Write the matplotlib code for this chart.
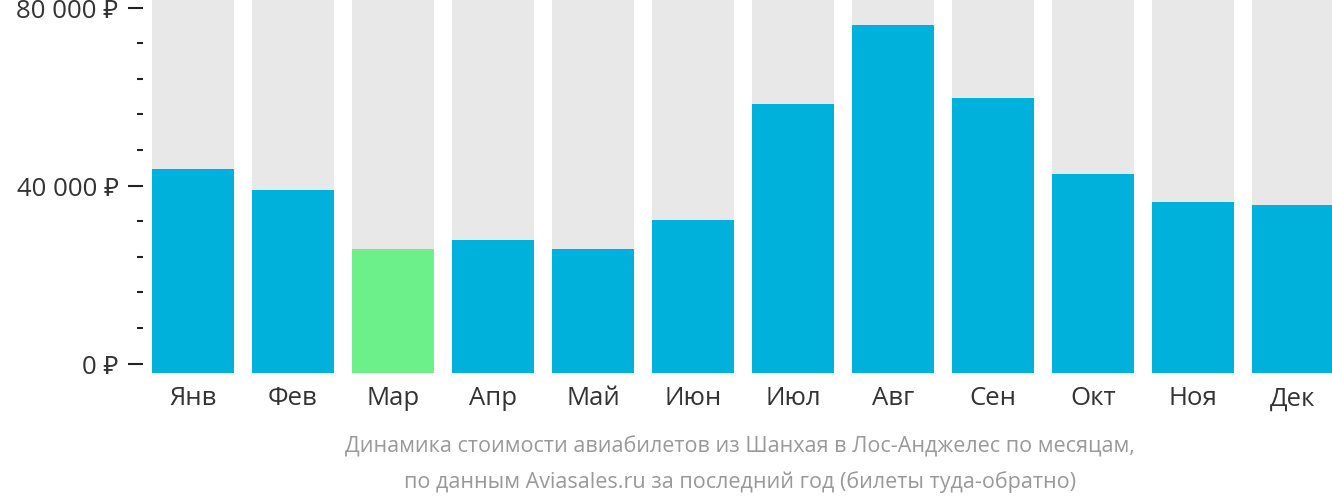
import matplotlib
matplotlib.use("Agg")
import matplotlib.pyplot as plt
from matplotlib.ticker import FixedLocator, FuncFormatter

months = ["Янв", "Фев", "Мар", "Апр", "Май", "Июн", "Июл", "Авг", "Сен", "Окт", "Ноя", "Дек"]
prices = [43700, 39000, 25800, 27800, 25800, 32300, 58300, 76000, 59600, 42600, 36300, 35600]
cheapest_month = "Мар"
major_ticks = [0, 40000, 80000]
minor_ticks = [8000, 16000, 24000, 32000, 48000, 56000, 64000, 72000]
caption = ["Динамика стоимости авиабилетов из Шанхая в Лос-Анджелес по месяцам,",
           "по данным Aviasales.ru за последний год (билеты туда-обратно)"]

FONT = ["Open Sans", "Noto Sans", "DejaVu Sans"]
plt.rcParams["font.family"] = FONT

W, H = 1332, 502
fig = plt.figure(figsize=(W / 100, H / 100), dpi=100)
ax = fig.add_axes([143 / W, 1 - 374 / H, (W - 143) / W, 374 / H])

ymin, ymax = -2130, 81910
ax.set_ylim(ymin, ymax)
ax.set_xlim(-0.5, 11.39)

x = list(range(len(months)))
colors = ["#6cf089" if m == cheapest_month else "#00b1dc" for m in months]
ax.bar(x, [ymax - ymin] * len(x), bottom=ymin, width=0.82, color="#e8e8e8", zorder=1)
ax.bar(x, [p - ymin for p in prices], bottom=ymin, width=0.82, color=colors, zorder=2)

for s in ax.spines.values():
    s.set_visible(False)

ax.yaxis.set_major_locator(FixedLocator(major_ticks))
ax.yaxis.set_minor_locator(FixedLocator(minor_ticks))
ax.yaxis.set_major_formatter(FuncFormatter(lambda v, p: f"{int(v):,}".replace(",", " ") + " ₽"))
ax.tick_params(axis="y", which="major", length=10.5, width=1.5, color="#222222",
               labelsize=18.5, labelcolor="#333333", pad=7)
ax.tick_params(axis="y", which="minor", length=4.3, width=1.5, color="#222222")

ax.set_xticks(x)
ax.set_xticklabels(months)
ax.tick_params(axis="x", length=0, labelsize=18.5, labelcolor="#333333", pad=9)

fig.text(740 / W, 1 - 447 / H, caption[0], ha="center", va="center", fontsize=15.5, color="#999999")
fig.text(740 / W, 1 - 482 / H, caption[1], ha="center", va="center", fontsize=15.5, color="#999999")

fig.savefig("out.png", dpi=100)
